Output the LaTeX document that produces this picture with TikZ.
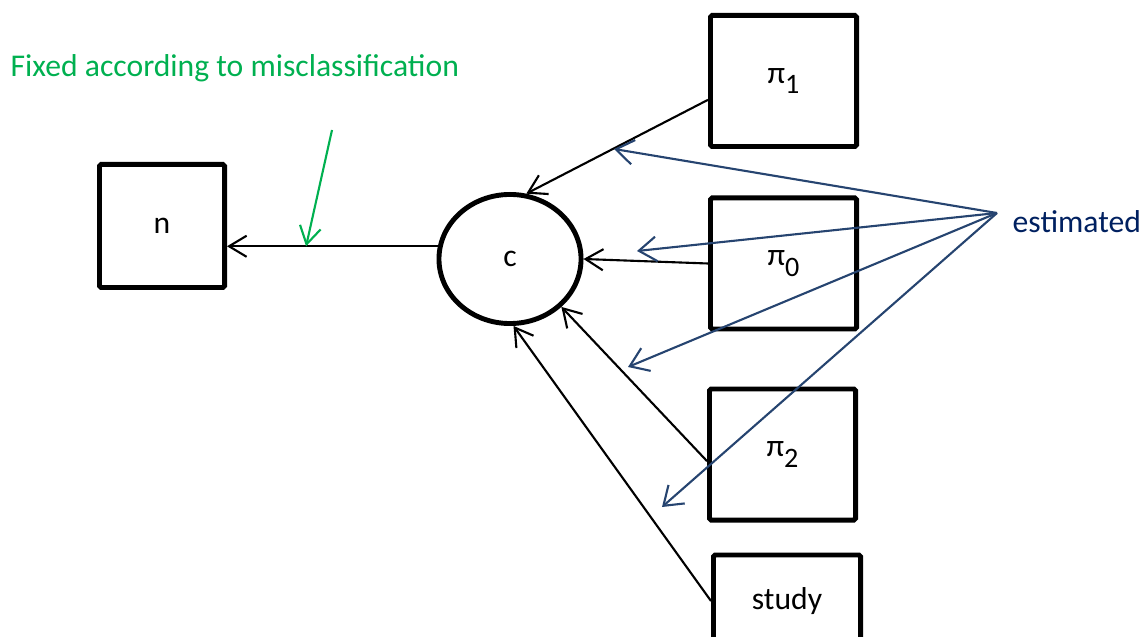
\documentclass[tikz,border=0pt]{standalone}
\usepackage{fontspec}
\setmainfont{Carlito}
\usepackage{tikz}
\usetikzlibrary{arrows.meta, positioning, shapes.geometric}
\definecolor{fixgreen}{RGB}{0,176,80}
\definecolor{estblue}{RGB}{38,68,112}
\definecolor{estnavy}{RGB}{0,32,96}

\newcommand{\pisub}[1]{π\raisebox{-0.7ex}{\footnotesize #1}}

\begin{document}
\begin{tikzpicture}[
  x=0.01cm, y=-0.01cm,
  font=\fontsize{9}{11}\selectfont,
  box/.style={
    draw=black,
    line width=1.4pt,
    rounded corners=0.5pt,
    minimum width=1.46cm,
    minimum height=1.31cm
  },
  latent/.style={
    ellipse,
    draw=black,
    line width=1.4pt,
    minimum width=1.42cm,
    minimum height=1.29cm
  },
  arrow/.style={-{Straight Barb[length=5pt, width=6pt]}, line width=0.6pt},
  estarrow/.style={-{Straight Barb[length=5pt, width=7pt]}, line width=0.6pt, estblue}
]
\useasboundingbox (0,0) rectangle (1143,637);

\node[box, minimum width=1.25cm, minimum height=1.23cm] (n) at (162,226) {n};
\node[latent] (c) at (510,259) {c};
\node[box] (pi1) at (783.5,81) {\pisub{1}};
\node[box] (pi0) at (783.5,263.5) {\pisub{0}};
\node[box] (pi2) at (782.5,454.5) {\pisub{2}};
\node[box, minimum width=1.47cm, minimum height=0.92cm] (study) at (787,601) {study};

\node[anchor=base west, inner sep=0, text=fixgreen] (fixed) at (10,77)
  {Fixed according to misclassification};
\node[anchor=base west, inner sep=0, text=estnavy] (est) at (1012,233) {estimated};

% edges into c
\draw[arrow] (c.170) -- coordinate[pos=0.625] (fixpt) (c.170 -| n.east);
\draw[arrow] (pi1.194) -- (c.76);
\draw[arrow] (pi0.west) -- (c.east);
\draw[arrow] (pi2.185) -- (c.317);
\draw[arrow] (study.west) -- (c.273);

% note arrows
\coordinate (fixstart) at (332,130);
\draw[arrow, fixgreen] (fixstart) -- (fixpt);

\coordinate (hub) at (997,213);
\coordinate (t1) at (614,149);
\coordinate (t0) at (637,251);
\coordinate (t2) at (628,367);
\coordinate (t3) at (662,507);
\foreach \t in {t1,t0,t2,t3}
  \draw[estarrow] (hub) -- (\t);
\end{tikzpicture}
\end{document}
